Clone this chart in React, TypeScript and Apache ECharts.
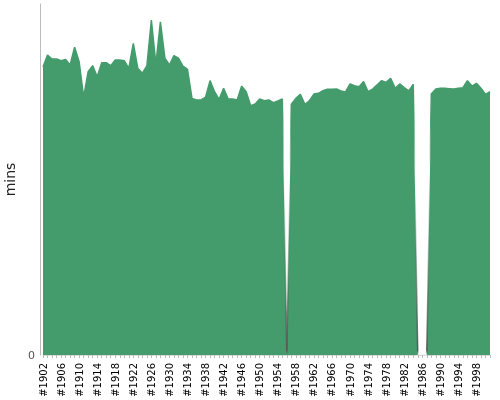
import React, { useEffect, useRef } from "react";
import * as echarts from "echarts";

const years: string[] = [];
for (let y = 1902; y <= 2001; y++) years.push("#" + y);

const mins: number[] = [
  147.7, 153.8, 151.8, 151.8, 150.9, 151.6, 148.7, 157.8, 150.4, 132.3,
  145.3, 148.4, 142.7, 149.9, 149.9, 148.4, 151.3, 151.3, 150.9, 147.0,
  159.8, 147.0, 144.5, 148.2, 171.8, 149.2, 170.9, 152.2, 148.7, 153.5,
  152.2, 148.2, 146.5, 131.6, 130.8, 130.8, 132.2, 140.7, 135.0, 131.1,
  136.8, 131.4, 131.3, 130.8, 137.9, 135.0, 127.8, 128.7, 131.3, 130.4,
  130.8, 129.4, 130.3, 131.3, 0, 128.6, 131.6, 133.7, 128.6, 130.4,
  133.8, 134.2, 135.5, 136.3, 136.3, 136.4, 135.4, 134.9, 139.0, 138.1,
  137.6, 140.2, 135.0, 136.4, 138.5, 140.7, 139.8, 141.9, 136.8, 139.0,
  137.1, 135.4, 138.8, 0, 0, 0, 133.8, 136.4, 136.8, 136.8,
  136.6, 136.4, 136.8, 137.1, 140.7, 137.9, 139.3, 136.8, 133.7, 135.0,
];

const FONT = "DejaVu Sans";
const GREEN = "#449c6c";

export default function App() {
  const ref = useRef<HTMLDivElement>(null);
  useEffect(() => {
    if (!ref.current) return;
    const chart = echarts.init(ref.current, null, { renderer: "svg" });
    chart.setOption({
      animation: false,
      textStyle: { fontFamily: FONT },
      grid: {
        left: 43,
        right: 10,
        top: 4,
        bottom: 45,
        containLabel: false,
        outerBoundsMode: "none",
      },
      xAxis: {
        type: "category",
        data: years,
        boundaryGap: false,
        offset: 4,
        axisLine: { show: true, lineStyle: { color: "#ddd", width: 1 } },
        axisTick: {
          show: true,
          interval: 0,
          length: 3,
          lineStyle: { color: "#bbb" },
        },
        axisLabel: {
          interval: 3,
          rotate: 90,
          fontSize: 10,
          fontFamily: FONT,
          color: "#000",
          margin: 4,
        },
        splitLine: { show: false },
      },
      yAxis: {
        type: "value",
        min: 0,
        max: 180,
        offset: 3,
        name: "mins",
        nameLocation: "middle",
        nameGap: 17,
        nameTextStyle: { fontSize: 14, fontFamily: FONT, color: "#222" },
        axisLine: { show: true, lineStyle: { color: "#bbb", width: 1 } },
        axisTick: { show: false },
        splitLine: { show: false },
        axisLabel: {
          formatter: (v: number) => (v === 0 ? "0" : ""),
          fontSize: 11,
          fontFamily: FONT,
          color: "#555",
          margin: 5,
        },
      },
      series: [
        {
          type: "line",
          data: mins,
          symbol: "none",
          lineStyle: {
            width: 1.5,
            color: new echarts.graphic.LinearGradient(0, 0, 0, 1, [
              { offset: 0, color: GREEN },
              { offset: 0.3, color: GREEN },
              { offset: 0.45, color: "rgba(68,156,108,0)" },
              { offset: 0.985, color: "#555" },
              { offset: 1, color: "rgba(85,85,85,0)" },
            ]),
          },
          areaStyle: { color: GREEN, opacity: 1 },
        },
      ],
    });
    return () => chart.dispose();
  }, []);
  return (
    <div
      ref={ref}
      style={{ position: "fixed", left: 0, top: 0, width: 500, height: 400 }}
    />
  );
}
